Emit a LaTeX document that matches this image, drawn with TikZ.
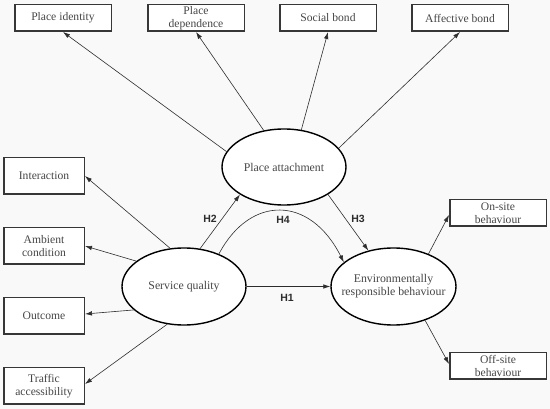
\documentclass[tikz,border=0pt]{standalone}
\usepackage{fontspec}
\setmainfont{Liberation Serif}
\newfontfamily\hfont{Liberation Sans}
\usetikzlibrary{shapes.geometric,arrows.meta}
\definecolor{bg}{RGB}{249,249,249}
\definecolor{boxline}{RGB}{55,55,55}
\definecolor{txt}{RGB}{70,70,70}
\definecolor{arr}{RGB}{45,45,45}
\tikzset{
  box/.style={draw=boxline, line width=1.5pt, fill=white, minimum width=96.5pt, minimum height=26.5pt,
    inner sep=0pt, align=center, font=\fontsize{11.6}{13.3}\selectfont, text=txt},
  lbox/.style={box, minimum width=80.5pt, minimum height=36.5pt},
  ell/.style={ellipse, draw=black, line width=1.4pt, fill=white, inner sep=0pt},
  etext/.style={align=center, font=\fontsize{11.8}{13.3}\selectfont, text=txt, inner sep=0pt},
  link/.style={draw=arr, line width=0.6pt, -{Latex[length=7pt,width=4.5pt]}},
  hyp/.style={font=\hfont\bfseries\fontsize{10.5}{12}\selectfont, text=arr, inner sep=0pt}
}
\begin{document}
\begin{tikzpicture}[x=1pt,y=-1pt]
\useasboundingbox[fill=bg] (0,0) rectangle (550,409);
% top boxes
\node[box] (pi) at (63,18) {Place identity};
\node[box] (pd) at (196,18) {Place\\dependence};
\node[box] (sb) at (328,18) {Social bond};
\node[box] (ab) at (460,18) {Affective bond};
% left boxes
\node[lbox] (in) at (44,176) {Interaction};
\node[lbox] (ac) at (44,246) {Ambient\\condition};
\node[lbox] (oc) at (44,316) {Outcome};
\node[lbox] (ta) at (44,386) {Traffic\\accessibility};
% right boxes
\node[box] (on) at (498,213) {On-site\\behaviour};
\node[box] (off) at (498,366) {Off-site\\behaviour};
% ellipses
\node[ell, minimum width=124pt, minimum height=76pt] (pa) at (284,167) {};
\node[etext] (pat) at (pa.center) {Place attachment};
\node[ell, minimum width=124pt, minimum height=77pt] (sq) at (184,286.5) {};
\node[etext] (sqt) at (sq.center) {Service quality};
\node[ell, minimum width=125pt, minimum height=77pt] (erb) at (393.5,286.5) {};
\node[etext] (erbt) at (erb.center) {Environmentally\\responsible behaviour};
% place attachment indicators
\draw[link] (pa.165) -- (pi.south);
\draw[link] (pa.119) -- (pd.south);
\draw[link] (pa.65) -- (sb.south);
\draw[link] (pa.19) -- (ab.south);
% service quality indicators
\draw[link] (sq.110) -- (in.east);
\draw[link] (sq.152) -- (ac.east);
\draw[link] (sq.205) -- ([yshift=2pt]oc.east);
\draw[link] (sq.246) -- ([yshift=2pt]ta.east);
% ERB indicators
\draw[link] (erb.43) -- ([yshift=-2pt]on.west);
\draw[link] (erb.-47) -- ([yshift=2pt]off.west);
% hypotheses
\draw[link] (sq.67) -- (pa.212);
\draw[link] (pa.-32) -- (erb.125);
\draw[link] (sq.43) .. controls (250,195) and (310,195) .. (erb.154);
\draw[link] (sq.east) -- (erb.west);
\node[hyp] (h2) at (210,219) {H2};
\node[hyp] (h4) at (283,220) {H4};
\node[hyp] (h3) at (358,219) {H3};
\node[hyp] (h1) at (287,298) {H1};
\end{tikzpicture}
\end{document}
